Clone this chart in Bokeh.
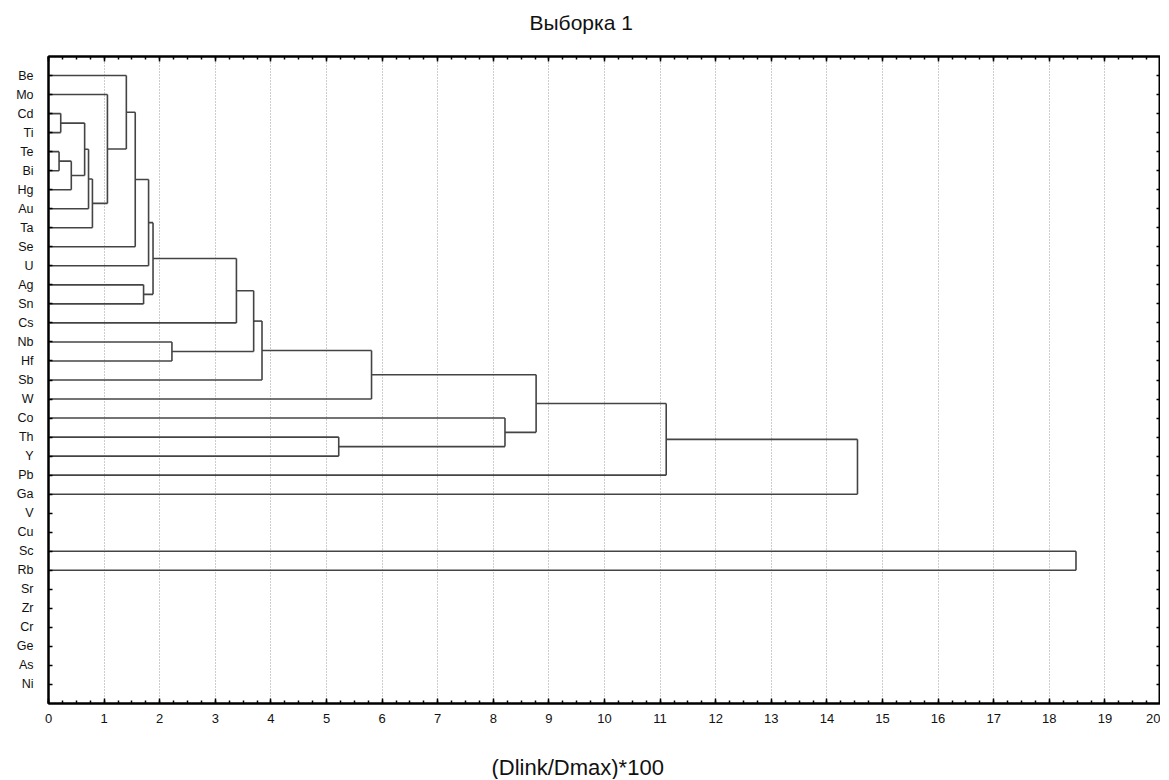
from bokeh.plotting import figure
from bokeh.models import Range1d, FixedTicker, LinearAxis, Title
from bokeh.embed import file_html
from bokeh.resources import INLINE

# Leaf labels, top to bottom
labels = ["Be", "Mo", "Cd", "Ti", "Te", "Bi", "Hg", "Au", "Ta", "Se", "U",
          "Ag", "Sn", "Cs", "Nb", "Hf", "Sb", "W", "Co", "Th", "Y", "Pb",
          "Ga", "V", "Cu", "Sc", "Rb", "Sr", "Zr", "Cr", "Ge", "As", "Ni"]

# Joining tree (indices: leaves 0..32, new clusters 33, 34, ... in order)
join_first = [4, 2, 33, 34, 36, 37, 1, 0, 40, 11, 41, 43, 14, 44, 46, 47, 19, 48, 18, 50, 52, 53, 25]
join_second = [5, 3, 6, 35, 7, 8, 38, 39, 9, 12, 10, 42, 15, 13, 45, 16, 20, 17, 49, 51, 21, 22, 26]
join_height = [0.19, 0.22, 0.41, 0.65, 0.72, 0.79, 1.06, 1.40, 1.56, 1.71, 1.80, 1.88,
               2.22, 3.38, 3.69, 3.84, 5.22, 5.81, 8.21, 8.77, 11.11, 14.55, 18.48]

x_ticks = list(range(0, 21))
title_text = "Выборка  1"
x_label_text = "(Dlink/Dmax)*100"

FONT = "Liberation Sans"
LINE = "#444444"

# compute node positions
pos_y = [i + 1 for i in range(len(labels))]
pos_x = [0.0 for _ in labels]
x0, y0, x1, y1 = [], [], [], []
for a, b, h in zip(join_first, join_second, join_height):
    for c in (a, b):
        x0.append(pos_x[c]); y0.append(pos_y[c]); x1.append(h); y1.append(pos_y[c])
    x0.append(h); y0.append(pos_y[a]); x1.append(h); y1.append(pos_y[b])
    pos_x.append(h)
    pos_y.append((pos_y[a] + pos_y[b]) / 2.0)

p = figure(frame_width=1112, frame_height=647, output_backend="svg", toolbar_location=None,
           x_range=Range1d(0, 20), y_range=Range1d(len(labels) + 1, 0),
           x_axis_location=None, y_axis_location=None, title_location=None,
           min_border_left=48, min_border_right=0, min_border_top=56, min_border_bottom=4)

p.background_fill_color = "white"
p.border_fill_color = "white"
p.outline_line_color = "black"
p.outline_line_width = 2

def style_axis(ax, show_labels):
    ax.axis_line_color = "black"
    ax.axis_line_width = 2
    ax.major_tick_in = 5
    ax.major_tick_out = 0
    ax.minor_tick_in = 3
    ax.minor_tick_out = 0
    ax.major_tick_line_color = "black"
    ax.minor_tick_line_color = "black"
    ax.major_tick_line_width = 1.5
    ax.minor_tick_line_width = 1.5
    ax.major_label_text_font = FONT
    ax.major_label_text_font_size = "13px"
    ax.major_label_text_color = "#111111"
    ax.major_label_standoff = 8 if show_labels else 0

minor = [t / 4 for t in range(0, 81)]

bottom = LinearAxis(ticker=FixedTicker(ticks=x_ticks, minor_ticks=minor))
style_axis(bottom, True)
bottom.major_label_standoff = 10
p.add_layout(bottom, "below")

top = LinearAxis(ticker=FixedTicker(ticks=x_ticks, minor_ticks=minor))
style_axis(top, False)
top.major_label_overrides = {t: "" for t in x_ticks}
p.add_layout(top, "above")

# spacer between top axis and title, then the title
p.add_layout(Title(text=" ", standoff=20, text_font_size="1px"), "above")
p.add_layout(Title(text=title_text, align="left", offset=481, text_font=FONT,
                   text_font_size="21px", text_font_style="normal",
                   text_color="#111111", standoff=0), "above")

# spacer below the bottom axis, then the x-axis title
p.add_layout(Title(text=" ", standoff=24, text_font_size="1px"), "below")
p.add_layout(Title(text=x_label_text, align="left", offset=443, text_font=FONT,
                   text_font_size="22px", text_font_style="normal",
                   text_color="#111111", standoff=0), "below")

yt = list(range(1, len(labels) + 1))
left = LinearAxis(ticker=FixedTicker(ticks=yt))
style_axis(left, True)
left.major_tick_in = 4
left.major_label_text_font_size = "12.5px"
left.major_label_overrides = {i + 1: lab for i, lab in enumerate(labels)}
left.major_label_standoff = 15
p.add_layout(left, "left")

right = LinearAxis(ticker=FixedTicker(ticks=yt))
style_axis(right, False)
right.major_tick_in = 4
right.major_label_overrides = {t: "" for t in yt}
p.add_layout(right, "right")

p.xgrid.ticker = FixedTicker(ticks=x_ticks)
p.xgrid.grid_line_color = "#9a9a9a"
p.xgrid.grid_line_dash = "1 2"
p.xgrid.grid_line_width = 1
p.ygrid.grid_line_color = None

p.segment(x0=x0, y0=y0, x1=x1, y1=y1, line_color=LINE, line_width=1.6)

open("out.html", "w").write(file_html(p, INLINE))
